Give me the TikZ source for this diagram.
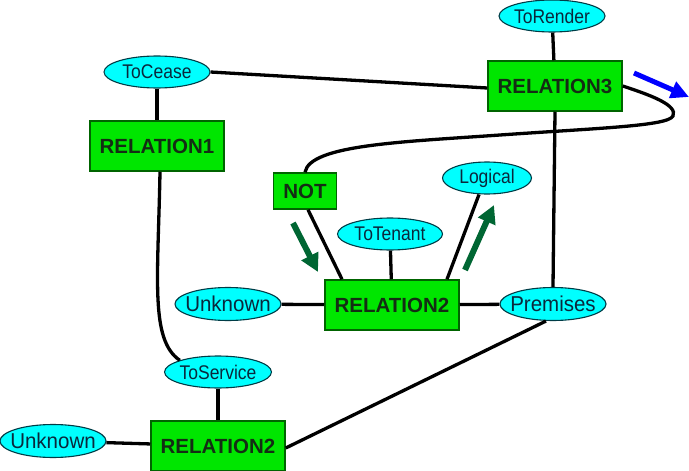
\documentclass[tikz,border=0pt]{standalone}
\usepackage{fontspec}
\usepackage{graphicx}
\setmainfont{Liberation Sans}
\usetikzlibrary{shapes.geometric,arrows.meta}
\definecolor{relfill}{RGB}{0,230,0}
\definecolor{relborder}{RGB}{0,100,0}
\definecolor{reltext}{RGB}{20,45,20}
\definecolor{elfill}{RGB}{0,255,255}
\definecolor{elborder}{RGB}{0,60,70}
\definecolor{eltext}{RGB}{10,40,60}
\definecolor{darkgreen}{RGB}{0,102,51}
\newcommand{\tallt}[1]{\makebox[0pt]{\scalebox{1}[1.13]{#1}}}
\newcommand{\flatt}[1]{\makebox[0pt]{\scalebox{1}[1.05]{#1}}}
\begin{document}
\begin{tikzpicture}[x=1pt,y=-1pt,
  relbox/.style={rectangle,draw=relborder,line width=1.5pt,fill=relfill,inner sep=0pt,
    minimum width=134pt,minimum height=50pt,text=reltext,
    font=\fontsize{20.5}{24}\selectfont\bfseries},
  attr/.style={ellipse,draw=elborder,line width=1.1pt,fill=elfill,inner sep=0pt,
    minimum width=106pt,minimum height=32pt,text=eltext,
    font=\fontsize{17.5}{20}\selectfont},
  bigattr/.style={attr,font=\fontsize{20.5}{24}\selectfont,minimum height=33pt},
  link/.style={line width=3.3pt,black},
  hint/.style={line width=6pt,darkgreen,-{Triangle[length=18pt,width=18pt]}}
]
\useasboundingbox (0,0) rectangle (689,471);
% nodes
\node[attr] (tocease) at (157,72) {\tallt{ToCease}};
\node[relbox] (rel1) at (157,146) {\makebox[0pt]{RELATION1}};
\node[relbox,minimum width=63pt,minimum height=36pt] (nott) at (305,191) {\makebox[0pt]{NOT}};
\node[attr] (torender) at (552,16) {\tallt{ToRender}};
\node[relbox] (rel3) at (555,86) {\makebox[0pt]{RELATION3}};
\node[attr,minimum width=89pt] (logical) at (487,178) {\tallt{Logical}};
\node[attr,minimum width=105pt] (totenant) at (390,234) {\tallt{ToTenant}};
\node[relbox] (rel2) at (392,305) {\makebox[0pt]{RELATION2}};
\node[bigattr] (unk1) at (228,304) {\flatt{Unknown}};
\node[bigattr] (premises) at (553,304) {\flatt{Premises}};
\node[attr,minimum width=107pt] (toservice) at (218,372) {\tallt{ToService}};
\node[relbox] (rel2b) at (218,446) {\makebox[0pt]{RELATION2}};
\node[bigattr] (unk2) at (53,441) {\flatt{Unknown}};
% connectors
\draw[link] (tocease.east) -- ([yshift=-2pt]rel3.west);
\draw[link] (tocease) -- (rel1);
\draw[link] ([xshift=3pt]rel1.south) .. controls (158,280) and (150,340) .. (toservice.north west);
\draw[link] (toservice) -- (rel2b);
\draw[link] (unk2) -- (rel2b);
\draw[link] ([yshift=-2pt]rel2b.east) -- ([xshift=-7pt]premises.south);
\draw[link] (torender) -- (rel3);
\draw[link] (rel3.south) -- (premises.north);
\draw[link] (rel3.east) .. controls (650,95) and (678,105) .. (673,116)
  .. controls (668,126) and (600,128) .. (500,135)
  .. controls (400,142) and (310,145) .. (nott.north);
\draw[link] ([xshift=3pt]nott.south) -- ([xshift=-50pt]rel2.north);
\draw[link] (totenant) -- (rel2);
\draw[link] ([xshift=-8pt]logical.south) -- ([xshift=55pt]rel2.north);
\draw[link] (unk1) -- (rel2);
\draw[link] (rel2) -- (premises);
% hint arrows
\coordinate (b1) at (634,73);
\coordinate (b2) at (689,97);
\coordinate (g1) at (293,223);
\coordinate (g2) at (318,272);
\coordinate (g3) at (465,270);
\coordinate (g4) at (494,205);
\draw[line width=5pt,blue,-{Triangle[length=18pt,width=17pt]}] (b1) -- (b2);
\draw[hint] (g1) -- (g2);
\draw[hint] (g3) -- (g4);
\end{tikzpicture}
\end{document}
